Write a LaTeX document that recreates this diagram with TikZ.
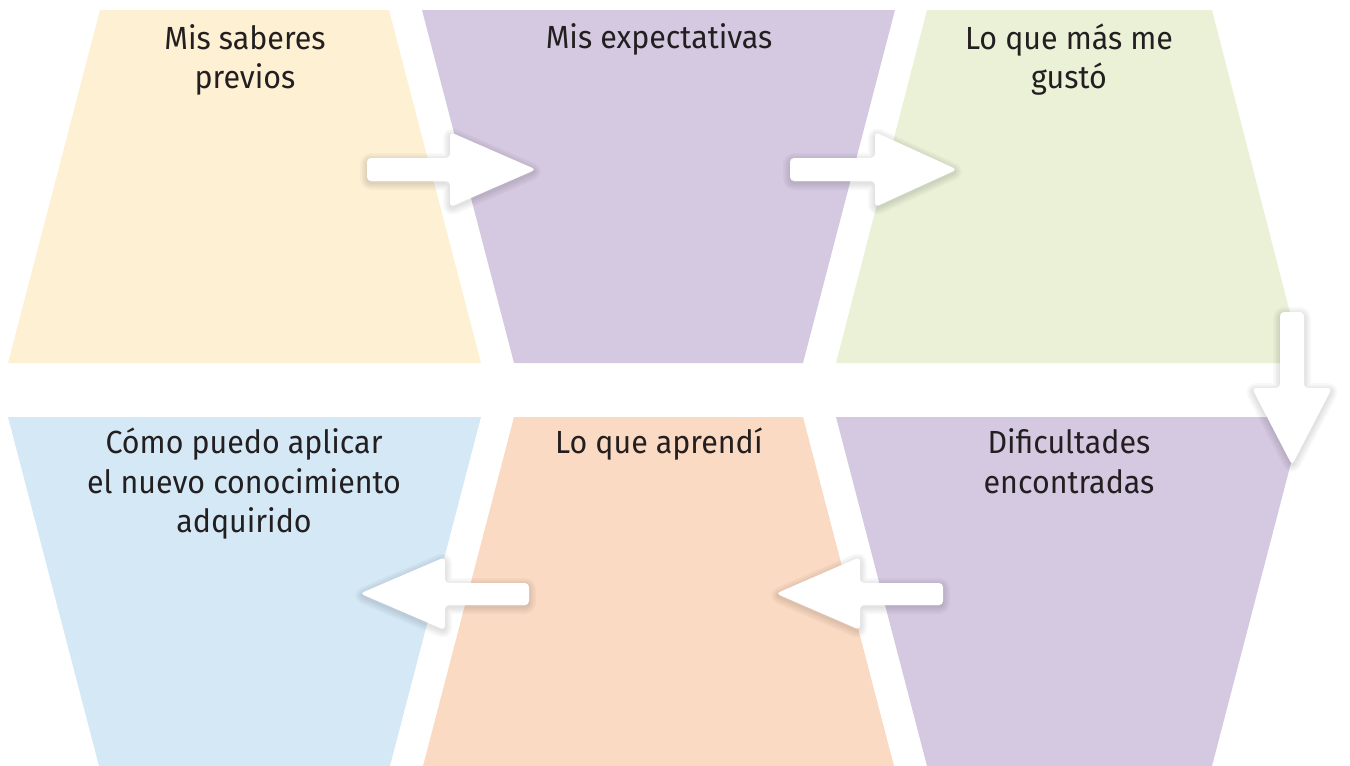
\documentclass[tikz,border=0pt]{standalone}
\usepackage{fontspec}
\setmainfont{Fira Sans}[FakeStretch=0.95]
\definecolor{cYellow}{RGB}{253,240,211}
\definecolor{cLilac}{RGB}{213,200,225}
\definecolor{cGreen}{RGB}{234,241,215}
\definecolor{cBlue}{RGB}{213,232,246}
\definecolor{cPeach}{RGB}{251,218,195}
\definecolor{cInk}{RGB}{35,31,32}
\tikzset{
  lbl/.style={anchor=base, inner sep=0pt, text=cInk, font=\fontsize{32}{38}\selectfont},
  arrowfill/.style={fill=white, draw=none, rounded corners=4pt},
  arrowshade/.style={draw=black, fill=none, line join=round, opacity=0.022, rounded corners=4pt}
}
\newcommand{\shadedarrow}[1]{%
  \foreach \w in {14,11,8,5,2} {\draw[arrowshade, line width=\w pt, yshift=-2pt] #1;}
  \fill[arrowfill] #1;
}
\begin{document}
\begin{tikzpicture}[x=1pt,y=-1pt]
\useasboundingbox (0,0) rectangle (1350,766);
% top row panels
\fill[cYellow] (100,10) -- (389,10) -- (481,363) -- (8,363) -- cycle;
\fill[cLilac] (422,10) -- (895,10) -- (803,363) -- (514,363) -- cycle;
\fill[cGreen] (927,10) -- (1212,10) -- (1303,363) -- (836,363) -- cycle;
% bottom row panels
\fill[cBlue] (8,417) -- (481,417) -- (390,766) -- (99,766) -- cycle;
\fill[cPeach] (514,417) -- (803,417) -- (894,766) -- (423,766) -- cycle;
\fill[cLilac] (836,417) -- (1303,417) -- (1212,766) -- (927,766) -- cycle;
% labels
\node[lbl] (saberes1) at (245,49) {Mis saberes};
\node[lbl] (saberes2) at (245,88) {previos};
\node[lbl] (expect) at (659,48) {Mis expectativas};
\node[lbl] (gusto1) at (1069,49) {Lo que más me};
\node[lbl] (gusto2) at (1069,88) {gustó};
\node[lbl] (aplicar1) at (244,453) {Cómo puedo aplicar};
\node[lbl] (aplicar2) at (244,493) {el nuevo conocimiento};
\node[lbl] (aplicar3) at (244,532) {adquirido};
\node[lbl] (aprendi) at (659,453) {Lo que aprendí};
\node[lbl] (dific1) at (1069,453) {Dificultades};
\node[lbl] (dific2) at (1069,493) {encontradas};
% arrows
\shadedarrow{(367,158) -- (450,158) -- (450,132) -- (536,169.5) -- (450,207) -- (450,181) -- (367,181) -- cycle}
\shadedarrow{(790,158) -- (875,158) -- (875,132) -- (957,169.5) -- (875,207) -- (875,181) -- (790,181) -- cycle}
\shadedarrow{(1280,312) -- (1304,312) -- (1304,388) -- (1332,388) -- (1292,465) -- (1252,388) -- (1280,388) -- cycle}
\shadedarrow{(943,583) -- (860,583) -- (860,557) -- (776,593.5) -- (860,630) -- (860,605) -- (943,605) -- cycle}
\shadedarrow{(529,583) -- (445,583) -- (445,557) -- (360,593.5) -- (445,630) -- (445,605) -- (529,605) -- cycle}
\end{tikzpicture}
\end{document}
